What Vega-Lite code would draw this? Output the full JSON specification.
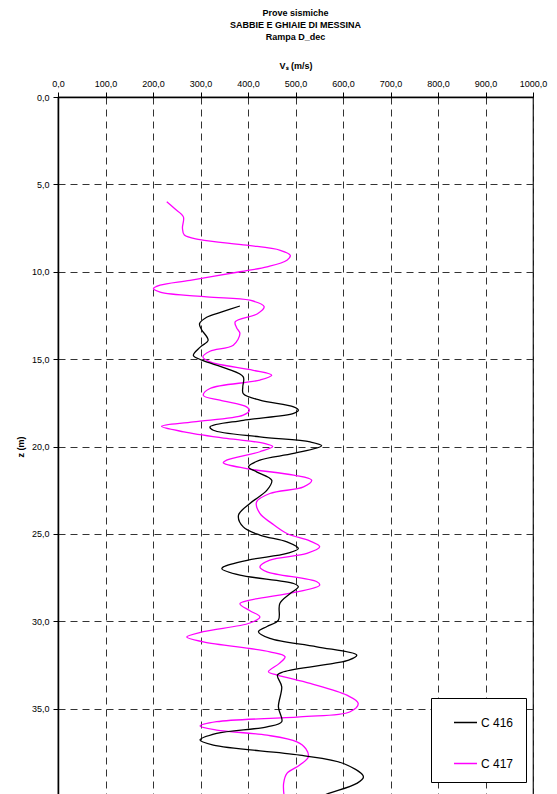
{
  "$schema": "https://vega.github.io/schema/vega-lite/v6.json",
  "width": 475,
  "height": 699,
  "autosize": {"type": "none"},
  "padding": {"left": 58, "top": 97, "right": 24, "bottom": 0},
  "background": "white",
  "title": {
    "text": ["Prove sismiche", "SABBIE E GHIAIE DI MESSINA", "Rampa D_dec"],
    "font": "Liberation Sans",
    "fontSize": 9,
    "fontWeight": "bold",
    "lineHeight": 12,
    "anchor": "middle",
    "offset": 19,
    "color": "#000000"
  },
  "config": {
    "view": {"stroke": "#000000", "strokeWidth": 1.2},
    "font": "Liberation Sans"
  },
  "data": {
    "values": [
      {"s": "C 417", "z": 6.0, "v": 229},
      {"s": "C 417", "z": 6.4, "v": 246},
      {"s": "C 417", "z": 6.86, "v": 264},
      {"s": "C 417", "z": 7.5, "v": 262},
      {"s": "C 417", "z": 7.9, "v": 266},
      {"s": "C 417", "z": 8.16, "v": 299},
      {"s": "C 417", "z": 8.48, "v": 397},
      {"s": "C 417", "z": 8.77, "v": 468},
      {"s": "C 417", "z": 9.06, "v": 489},
      {"s": "C 417", "z": 9.34, "v": 482},
      {"s": "C 417", "z": 9.72, "v": 440},
      {"s": "C 417", "z": 10.0, "v": 383},
      {"s": "C 417", "z": 10.49, "v": 278},
      {"s": "C 417", "z": 10.77, "v": 215},
      {"s": "C 417", "z": 10.96, "v": 201},
      {"s": "C 417", "z": 11.16, "v": 215},
      {"s": "C 417", "z": 11.44, "v": 313},
      {"s": "C 417", "z": 11.63, "v": 404},
      {"s": "C 417", "z": 12.0, "v": 434},
      {"s": "C 417", "z": 12.4, "v": 420},
      {"s": "C 417", "z": 12.87, "v": 373},
      {"s": "C 417", "z": 13.2, "v": 376},
      {"s": "C 417", "z": 13.54, "v": 383},
      {"s": "C 417", "z": 14.2, "v": 369},
      {"s": "C 417", "z": 14.55, "v": 320},
      {"s": "C 417", "z": 14.87, "v": 305},
      {"s": "C 417", "z": 15.16, "v": 320},
      {"s": "C 417", "z": 15.64, "v": 411},
      {"s": "C 417", "z": 15.92, "v": 450},
      {"s": "C 417", "z": 16.2, "v": 425},
      {"s": "C 417", "z": 16.68, "v": 320},
      {"s": "C 417", "z": 17.07, "v": 306},
      {"s": "C 417", "z": 17.35, "v": 341},
      {"s": "C 417", "z": 17.73, "v": 397},
      {"s": "C 417", "z": 17.92, "v": 403},
      {"s": "C 417", "z": 18.21, "v": 390},
      {"s": "C 417", "z": 18.59, "v": 285},
      {"s": "C 417", "z": 18.84, "v": 218},
      {"s": "C 417", "z": 19.16, "v": 265},
      {"s": "C 417", "z": 19.54, "v": 355},
      {"s": "C 417", "z": 19.83, "v": 436},
      {"s": "C 417", "z": 20.0, "v": 452},
      {"s": "C 417", "z": 20.3, "v": 425},
      {"s": "C 417", "z": 20.78, "v": 355},
      {"s": "C 417", "z": 20.93, "v": 348},
      {"s": "C 417", "z": 21.26, "v": 397},
      {"s": "C 417", "z": 21.64, "v": 496},
      {"s": "C 417", "z": 21.93, "v": 534},
      {"s": "C 417", "z": 22.31, "v": 517},
      {"s": "C 417", "z": 22.69, "v": 446},
      {"s": "C 417", "z": 23.17, "v": 418},
      {"s": "C 417", "z": 23.83, "v": 425},
      {"s": "C 417", "z": 24.4, "v": 450},
      {"s": "C 417", "z": 24.98, "v": 482},
      {"s": "C 417", "z": 25.4, "v": 530},
      {"s": "C 417", "z": 25.74, "v": 551},
      {"s": "C 417", "z": 26.12, "v": 524},
      {"s": "C 417", "z": 26.5, "v": 446},
      {"s": "C 417", "z": 26.89, "v": 425},
      {"s": "C 417", "z": 27.17, "v": 440},
      {"s": "C 417", "z": 27.74, "v": 545},
      {"s": "C 417", "z": 27.93, "v": 551},
      {"s": "C 417", "z": 28.32, "v": 503},
      {"s": "C 417", "z": 28.79, "v": 404},
      {"s": "C 417", "z": 29.0, "v": 383},
      {"s": "C 417", "z": 29.4, "v": 404},
      {"s": "C 417", "z": 29.75, "v": 425},
      {"s": "C 417", "z": 30.1, "v": 404},
      {"s": "C 417", "z": 30.6, "v": 306},
      {"s": "C 417", "z": 30.9, "v": 271},
      {"s": "C 417", "z": 31.18, "v": 306},
      {"s": "C 417", "z": 31.75, "v": 446},
      {"s": "C 417", "z": 32.03, "v": 478},
      {"s": "C 417", "z": 32.41, "v": 466},
      {"s": "C 417", "z": 32.89, "v": 443},
      {"s": "C 417", "z": 33.08, "v": 462},
      {"s": "C 417", "z": 33.56, "v": 531},
      {"s": "C 417", "z": 34.23, "v": 608},
      {"s": "C 417", "z": 34.7, "v": 632},
      {"s": "C 417", "z": 35.18, "v": 615},
      {"s": "C 417", "z": 35.47, "v": 509},
      {"s": "C 417", "z": 35.75, "v": 334},
      {"s": "C 417", "z": 36.0, "v": 299},
      {"s": "C 417", "z": 36.23, "v": 334},
      {"s": "C 417", "z": 36.52, "v": 440},
      {"s": "C 417", "z": 36.9, "v": 503},
      {"s": "C 417", "z": 37.3, "v": 522},
      {"s": "C 417", "z": 37.76, "v": 527},
      {"s": "C 417", "z": 38.23, "v": 509},
      {"s": "C 417", "z": 38.71, "v": 482},
      {"s": "C 417", "z": 39.28, "v": 475},
      {"s": "C 417", "z": 40.0, "v": 476},
      {"s": "C 416", "z": 11.96, "v": 383},
      {"s": "C 416", "z": 12.3, "v": 345},
      {"s": "C 416", "z": 12.6, "v": 313},
      {"s": "C 416", "z": 12.97, "v": 298},
      {"s": "C 416", "z": 13.3, "v": 302},
      {"s": "C 416", "z": 13.92, "v": 316},
      {"s": "C 416", "z": 14.3, "v": 300},
      {"s": "C 416", "z": 14.78, "v": 285},
      {"s": "C 416", "z": 15.06, "v": 303},
      {"s": "C 416", "z": 15.54, "v": 355},
      {"s": "C 416", "z": 16.02, "v": 390},
      {"s": "C 416", "z": 16.59, "v": 389},
      {"s": "C 416", "z": 16.97, "v": 390},
      {"s": "C 416", "z": 17.35, "v": 425},
      {"s": "C 416", "z": 17.73, "v": 496},
      {"s": "C 416", "z": 17.92, "v": 506},
      {"s": "C 416", "z": 18.1, "v": 496},
      {"s": "C 416", "z": 18.5, "v": 390},
      {"s": "C 416", "z": 18.88, "v": 320},
      {"s": "C 416", "z": 19.07, "v": 327},
      {"s": "C 416", "z": 19.45, "v": 425},
      {"s": "C 416", "z": 19.74, "v": 531},
      {"s": "C 416", "z": 19.96, "v": 555},
      {"s": "C 416", "z": 20.4, "v": 496},
      {"s": "C 416", "z": 20.78, "v": 425},
      {"s": "C 416", "z": 21.17, "v": 401},
      {"s": "C 416", "z": 21.45, "v": 418},
      {"s": "C 416", "z": 21.93, "v": 450},
      {"s": "C 416", "z": 22.5, "v": 440},
      {"s": "C 416", "z": 23.26, "v": 404},
      {"s": "C 416", "z": 23.93, "v": 380},
      {"s": "C 416", "z": 24.6, "v": 390},
      {"s": "C 416", "z": 25.07, "v": 425},
      {"s": "C 416", "z": 25.46, "v": 482},
      {"s": "C 416", "z": 25.84, "v": 506},
      {"s": "C 416", "z": 26.12, "v": 482},
      {"s": "C 416", "z": 26.5, "v": 400},
      {"s": "C 416", "z": 26.89, "v": 348},
      {"s": "C 416", "z": 27.0, "v": 345},
      {"s": "C 416", "z": 27.36, "v": 383},
      {"s": "C 416", "z": 27.84, "v": 496},
      {"s": "C 416", "z": 28.03, "v": 506},
      {"s": "C 416", "z": 28.41, "v": 489},
      {"s": "C 416", "z": 28.98, "v": 467},
      {"s": "C 416", "z": 29.94, "v": 464},
      {"s": "C 416", "z": 30.3, "v": 440},
      {"s": "C 416", "z": 30.6, "v": 422},
      {"s": "C 416", "z": 30.98, "v": 446},
      {"s": "C 416", "z": 31.46, "v": 545},
      {"s": "C 416", "z": 31.94, "v": 629},
      {"s": "C 416", "z": 32.23, "v": 612},
      {"s": "C 416", "z": 32.41, "v": 580},
      {"s": "C 416", "z": 32.89, "v": 475},
      {"s": "C 416", "z": 33.08, "v": 462},
      {"s": "C 416", "z": 33.75, "v": 471},
      {"s": "C 416", "z": 34.9, "v": 464},
      {"s": "C 416", "z": 35.75, "v": 471},
      {"s": "C 416", "z": 36.04, "v": 440},
      {"s": "C 416", "z": 36.42, "v": 334},
      {"s": "C 416", "z": 36.8, "v": 299},
      {"s": "C 416", "z": 37.09, "v": 327},
      {"s": "C 416", "z": 37.66, "v": 509},
      {"s": "C 416", "z": 38.14, "v": 601},
      {"s": "C 416", "z": 38.9, "v": 643},
      {"s": "C 416", "z": 39.28, "v": 629},
      {"s": "C 416", "z": 39.89, "v": 566},
      {"s": "C 416", "z": 40.2, "v": 540}
    ]
  },
  "mark": {"type": "line", "interpolate": "catmull-rom", "strokeWidth": 1.3, "clip": true},
  "encoding": {
    "x": {
      "field": "v",
      "type": "quantitative",
      "scale": {"domain": [0, 1000], "nice": false, "zero": false},
      "axis": {
        "orient": "top",
        "values": [0, 100, 200, 300, 400, 500, 600, 700, 800, 900, 1000],
        "labelExpr": "replace(format(datum.value, '.1f'), '.', ',')",
        "title": "Vₛ (m/s)",
        "titleFont": "Liberation Sans",
        "titleFontSize": 9,
        "titleFontWeight": "bold",
        "titleColor": "#000000",
        "titlePadding": 9,
        "labelFont": "Liberation Sans",
        "labelFontSize": 9,
        "labelColor": "#000000",
        "labelPadding": 4,
        "labelFlush": false,
        "labelOverlap": false,
        "domainColor": "#000000",
        "domainWidth": 1.5,
        "tickColor": "#000000",
        "tickSize": 5,
        "grid": true,
        "gridColor": "#333333",
        "gridDash": [7, 5],
        "gridWidth": 1
      }
    },
    "y": {
      "field": "z",
      "type": "quantitative",
      "scale": {"domain": [0, 40], "reverse": true, "nice": false, "zero": false},
      "axis": {
        "orient": "left",
        "values": [0, 5, 10, 15, 20, 25, 30, 35, 40],
        "labelExpr": "replace(format(datum.value, '.1f'), '.', ',')",
        "title": "z (m)",
        "titleFont": "Liberation Sans",
        "titleFontSize": 9,
        "titleFontWeight": "bold",
        "titleColor": "#000000",
        "titlePadding": 6,
        "labelFont": "Liberation Sans",
        "labelFontSize": 9,
        "labelColor": "#000000",
        "labelPadding": 4,
        "labelFlush": false,
        "labelOverlap": false,
        "domainColor": "#000000",
        "domainWidth": 1.5,
        "tickColor": "#000000",
        "tickSize": 5,
        "grid": true,
        "gridColor": "#333333",
        "gridDash": [7, 5],
        "gridWidth": 1
      }
    },
    "color": {
      "field": "s",
      "type": "nominal",
      "scale": {"domain": ["C 416", "C 417"], "range": ["#000000", "#FF00FF"]},
      "legend": {
        "title": null,
        "orient": "none",
        "legendX": 373,
        "legendY": 601,
        "fillColor": "#ffffff",
        "strokeColor": "#000000",
        "padding": 12,
        "rowPadding": 22,
        "symbolOffset": 10,
        "symbolType": "stroke",
        "symbolSize": 529,
        "symbolStrokeWidth": 1.5,
        "labelFont": "Liberation Sans",
        "labelFontSize": 12,
        "labelColor": "#000000",
        "labelOffset": 3
      }
    },
    "order": {"field": "z", "type": "quantitative"}
  }
}
